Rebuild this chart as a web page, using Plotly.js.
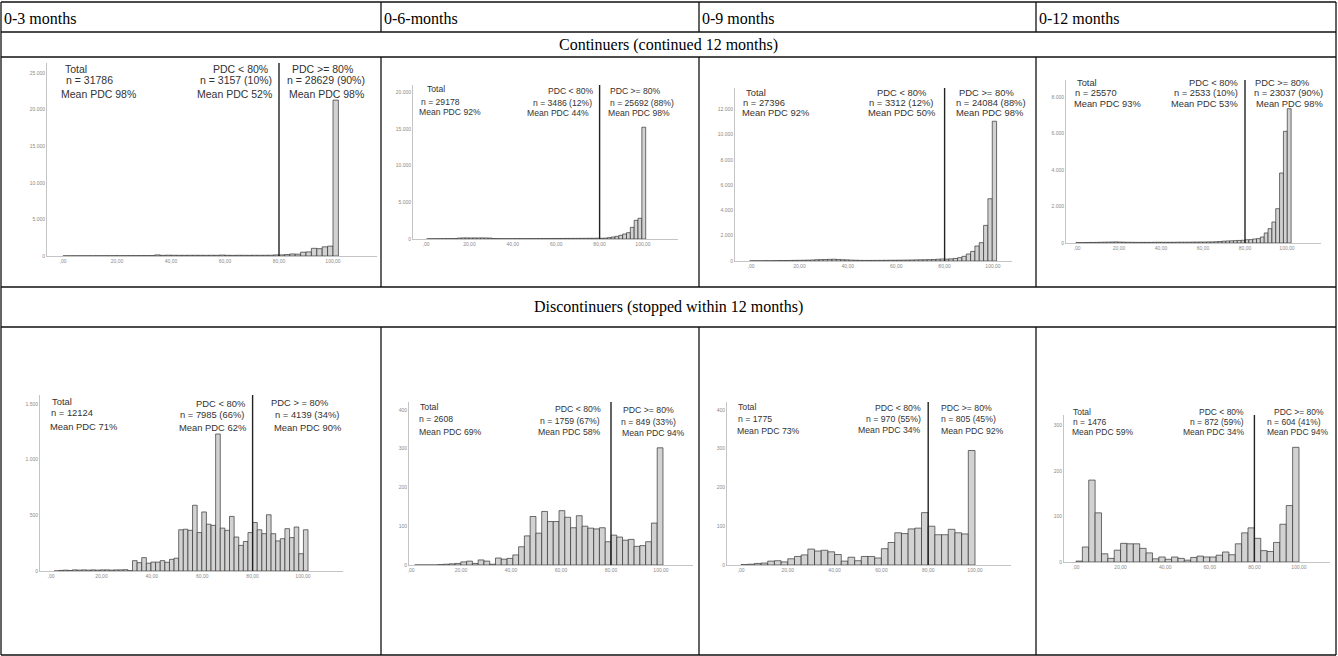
<!DOCTYPE html>
<html><head><meta charset="utf-8">
<script src="https://cdn.plot.ly/plotly-3.0.1.min.js"></script>
<style>html,body{margin:0;padding:0;background:#fff;} #chart{width:1338px;height:656px;}</style>
</head><body><div id="chart"></div>
<script>
// ---------------- DATA ----------------
const columnHeaders = ["0-3 months", "0-6-months", "0-9 months", "0-12 months"];
const rowTitles = ["Continuers (continued 12 months)", "Discontinuers (stopped within 12 months)"];
const xTickVals = [0, 20, 40, 60, 80, 100];
const xTickText = [",00", "20,00", "40,00", "60,00", "80,00", "100,00"];
const cutoff = 80;

// histogram counts: bins below the 80% cutoff (ascending) and bins from the cutoff upward
const cont03Below = [20,25,25,30,30,30,35,35,40,40,40,45,45,50,50,50,55,150,90,110,100,95,90,95,100,95,90,100,90,130,95,85,100,95,90,100,95,100,105,150];
const cont03Above = [150,200,280,250,520,560,1050,1000,1250,1350,21300];
const cont06Below = [25,30,35,40,45,50,55,60,130,150,150,140,150,145,150,140,130,60,50,45,45,45,45,45,50,50,50,55,55,55,60,60,65,70,70,75,80,80,85,85,90,90,95,100,110];
const cont06Above = [100,120,180,270,360,500,680,860,1590,2545,2820,15230];
const cont09Below = [10,15,15,20,20,25,30,35,40,45,50,55,60,70,80,100,110,120,130,140,120,100,90,70,60,50,45,45,45,50,50,55,60,60,65,70,75,80,90,95,100,110,120,140,160];
const cont09Above = [150,170,200,265,370,550,760,1185,1450,2815,4920,11050];
const cont12Below = [20,20,25,30,30,35,40,45,50,55,60,50,45,40,40,35,35,35,35,35,40,40,40,40,40,40,45,45,45,45,50,50,55,55,60,60,70,80,100,110,120,130,140,150];
const cont12Above = [180,185,220,240,330,550,785,1150,1880,3835,6120,7360];
const disc03Below = [0,5,8,5,10,8,10,8,10,8,10,10,8,10,10,12,3,
                     93,75,120,70,80,80,93,78,105,115,
                     370,375,365,590,345,530,420,410,1230,385,365,490,305,230,265,345];
const disc03Above = [435,370,335,505,335,270,290,380,300,395,155,370];
const disc06Below = [0,0,0,0,1,2,3,4,8,10,4,13,10,2,18,15,17,26,47,75,125,82,138,112,112,140,123,96,127,100,95,93,96,60];
const disc06Above = [77,72,64,66,48,50,60,108,302];
const disc09Below = [1,2,4,5,10,11,8,16,22,26,41,36,38,34,27,10,20,11,22,22,18,42,58,83,81,93,95,135];
const disc09Above = [100,78,78,92,83,80,295];
const disc12Below = [2,33,180,108,18,8,26,41,40,40,30,20,7,11,6,11,8,4,10,13,11,11,15,22,16,40,64,75];
const disc12Above = [52,25,23,43,83,124,252];

// y-axis tick values
const yTicksCont03 = [0,5000,10000,15000,20000,25000];
const yTicksCont06 = [0,5000,10000,15000,20000];
const yTicksCont09 = [0,2000,4000,6000,8000,10000,12000];
const yTicksCont12 = [0,2000,4000,6000,8000];
const yTicksDisc03 = [0,500,1000,1500];
const yTicksDisc06 = [0,100,200,300,400];
const yTicksDisc09 = [0,100,200,300,400];
const yTicksDisc12 = [0,100,200,300];

// annotation texts: [total block, PDC<80 block, PDC>=80 block]
const textCont03 = [["Total","n = 31786","Mean PDC 98%"],["PDC < 80%","n = 3157 (10%)","Mean PDC 52%"],["PDC >= 80%","n = 28629 (90%)","Mean PDC 98%"]];
const textCont06 = [["Total","n = 29178","Mean PDC 92%"],["PDC < 80%","n = 3486 (12%)","Mean PDC 44%"],["PDC >= 80%","n = 25692 (88%)","Mean PDC 98%"]];
const textCont09 = [["Total","n = 27396","Mean PDC 92%"],["PDC < 80%","n = 3312 (12%)","Mean PDC 50%"],["PDC >= 80%","n = 24084 (88%)","Mean PDC 98%"]];
const textCont12 = [["Total","n = 25570","Mean PDC 93%"],["PDC < 80%","n = 2533 (10%)","Mean PDC 53%"],["PDC >= 80%","n = 23037 (90%)","Mean PDC 98%"]];
const textDisc03 = [["Total","n = 12124","Mean PDC 71%"],["PDC < 80%","n = 7985 (66%)","Mean PDC 62%"],["PDC > = 80%","n = 4139 (34%)","Mean PDC 90%"]];
const textDisc06 = [["Total","n = 2608","Mean PDC 69%"],["PDC < 80%","n = 1759 (67%)","Mean PDC 58%"],["PDC >= 80%","n = 849 (33%)","Mean PDC 94%"]];
const textDisc09 = [["Total","n = 1775","Mean PDC 73%"],["PDC < 80%","n = 970 (55%)","Mean PDC 34%"],["PDC >= 80%","n = 805 (45%)","Mean PDC 92%"]];
const textDisc12 = [["Total","n = 1476","Mean PDC 59%"],["PDC < 80%","n = 872 (59%)","Mean PDC 34%"],["PDC >= 80%","n = 604 (41%)","Mean PDC 94%"]];

// ---------------- LAYOUT / STYLE (pixel geometry) ----------------
const W = 1338, H = 656;
const panels = [
  {below: cont03Below, above: cont03Above, bw: 2.0, yt: yTicksCont03, txt: textCont03, ax: 47, x0: 63, x100: 333, xe: 377, base: 256, top: 63, ymax: 26370, fs: 10.5,
   blk: [{a:'left', xs:[63,64,59], ys:[69,80,94]}, {a:'right', xs:[270,274,274], ys:[69,80,94]}, {a:'left', xs:[290,285,287], ys:[69,80,94]}]},
  {below: cont06Below, above: cont06Above, bw: 1.77, yt: yTicksCont06, txt: textCont06, ax: 413, x0: 426, x100: 643, xe: 678, base: 239, top: 85, ymax: 20980, fs: 8.6,
   blk: [{a:'left', xs:[425,419,417], ys:[89,102,112]}, {a:'right', xs:[595,594,591], ys:[91,103,113]}, {a:'left', xs:[608,608,606], ys:[91,103,113]}]},
  {below: cont09Below, above: cont09Above, bw: 1.79, yt: yTicksCont09, txt: textCont09, ax: 735, x0: 751, x100: 993, xe: 1012, base: 261, top: 88, ymax: 13676, fs: 9.4,
   blk: [{a:'left', xs:[744,741,740], ys:[92,103,113]}, {a:'center', xs:[901,901,901], ys:[93,103,113]}, {a:'left', xs:[957,954,954], ys:[93,103,113]}]},
  {below: cont12Below, above: cont12Above, bw: 1.83, yt: yTicksCont12, txt: textCont12, ax: 1066, x0: 1077, x100: 1287, xe: 1321, base: 243, top: 80, ymax: 8932, fs: 9.3,
   blk: [{a:'left', xs:[1075,1073,1072], ys:[83,93,104]}, {a:'right', xs:[1240,1240,1240], ys:[83,93,104]}, {a:'left', xs:[1253,1252,1254], ys:[83,93,104]}]},
  {below: disc03Below, above: disc03Above, bw: 1.833, yt: yTicksDisc03, txt: textDisc03, ax: 40, x0: 51, x100: 303, xe: 343, base: 571, top: 395, ymax: 1580, fs: 9.4,
   blk: [{a:'left', xs:[50,49,48], ys:[401,413,426]}, {a:'right', xs:[247,246,248], ys:[403,414,427]}, {a:'left', xs:[269,273,272], ys:[402,415,427]}]},
  {below: disc06Below, above: disc06Above, bw: 2.31, yt: yTicksDisc06, txt: textDisc06, ax: 409, x0: 411, x100: 661, xe: 693, base: 565, top: 402, ymax: 420, fs: 8.7,
   blk: [{a:'left', xs:[418,417,417], ys:[407,419,432]}, {a:'right', xs:[603,602,603], ys:[409,421,432]}, {a:'left', xs:[621,619,620], ys:[410,422,433]}]},
  {below: disc09Below, above: disc09Above, bw: 100/35, yt: yTicksDisc09, txt: textDisc09, ax: 727, x0: 741, x100: 975, xe: 1011, base: 565, top: 402, ymax: 420, fs: 8.7,
   blk: [{a:'left', xs:[736,736,735], ys:[407,419,431]}, {a:'right', xs:[923,923,923], ys:[408,419,430]}, {a:'left', xs:[939,939,939], ys:[408,419,431]}]},
  {below: disc12Below, above: disc12Above, bw: 100/35, yt: yTicksDisc12, txt: textDisc12, ax: 1064, x0: 1076, x100: 1299, xe: 1330, base: 562, top: 415, ymax: 323, fs: 8.5,
   blk: [{a:'left', xs:[1071,1071,1070], ys:[412,422,432]}, {a:'right', xs:[1246,1246,1246], ys:[412,422,432]}, {a:'left', xs:[1272,1265,1265], ys:[412,422,432]}]}
];

function fmtThousands(v) {
  if (v < 1000) return String(v);
  const s = String(v);
  return s.slice(0, s.length - 3) + "." + s.slice(s.length - 3);
}
const px = x => x / W;
const py = y => 1 - y / H;

const traces = [];
const layout = {
  width: W, height: H,
  margin: {l: 0, r: 0, t: 0, b: 0, pad: 0},
  paper_bgcolor: '#ffffff', plot_bgcolor: 'rgba(0,0,0,0)',
  showlegend: false, hovermode: false,
  shapes: [], annotations: []
};

panels.forEach((p, i) => {
  const n = i + 1;
  const xa = n === 1 ? 'x' : 'x' + n, ya = n === 1 ? 'y' : 'y' + n;
  const xk = n === 1 ? 'xaxis' : 'xaxis' + n, yk = n === 1 ? 'yaxis' : 'yaxis' + n;
  const w = p.bw, nb = p.below.length;
  // bin centres: bins are laid out edge-to-edge on either side of the cutoff
  const xsBelow = p.below.map((_, k) => cutoff - (nb - k - 0.5) * w);
  const xsAbove = p.above.map((_, k) => cutoff + (k + 0.5) * w);
  traces.push({
    type: 'bar', x: xsBelow.concat(xsAbove), y: p.below.concat(p.above), width: w, xaxis: xa, yaxis: ya,
    marker: {color: '#d2d2d2', line: {color: '#333', width: 0.7}},
    hoverinfo: 'skip'
  });
  const scale = (p.x100 - p.x0) / 100;
  layout[xk] = {
    domain: [px(p.ax), px(p.xe)], anchor: ya,
    range: [(p.ax - p.x0) / scale, (p.xe - p.x0) / scale],
    showgrid: false, zeroline: false, showline: true, linecolor: '#c4c4c4', linewidth: 1,
    ticks: '', tickvals: xTickVals, ticktext: xTickText,
    tickfont: {family: 'Liberation Sans, Arial, sans-serif', size: 5, color: '#8a8a8a'},
    fixedrange: true
  };
  layout[yk] = {
    domain: [py(p.base), py(p.top)], anchor: xa,
    range: [0, p.ymax],
    showgrid: false, zeroline: false, showline: true, linecolor: '#c4c4c4', linewidth: 1,
    ticks: '', tickvals: p.yt, ticktext: p.yt.map(fmtThousands),
    tickfont: {family: 'Liberation Sans, Arial, sans-serif', size: 5, color: '#8a8a8a'},
    fixedrange: true
  };
  layout.shapes.push({type: 'line', xref: xa, yref: ya + ' domain', x0: cutoff, x1: cutoff, y0: 0, y1: 1,
    line: {color: '#222', width: 1.4}});
  p.blk.forEach((b, bi) => {
    p.txt[bi].forEach((t, li) => {
      layout.annotations.push({
        xref: 'paper', yref: 'paper', x: px(b.xs[li]), y: py(b.ys[li]),
        xanchor: b.a, yanchor: 'middle', showarrow: false, text: t,
        font: {family: 'Liberation Sans, Arial, sans-serif', size: p.fs, color: '#333'}
      });
    });
  });
});

// table grid
const hl = [2, 32, 57, 287, 327, 655];
const colX = [1, 381, 699, 1036, 1336];
const line = (x0, y0, x1, y1) => ({type: 'line', xref: 'paper', yref: 'paper', x0: px(x0), y0: py(y0), x1: px(x1), y1: py(y1), line: {color: '#111', width: 1.3}});
hl.forEach(y => layout.shapes.push(line(1, y, 1336, y)));
layout.shapes.push(line(1, 2, 1, 655));
layout.shapes.push(line(1336, 2, 1336, 655));
[381, 699, 1036].forEach(x => {
  layout.shapes.push(line(x, 2, x, 32));
  layout.shapes.push(line(x, 57, x, 287));
  layout.shapes.push(line(x, 327, x, 655));
});
const serif = {family: 'Liberation Serif, Times New Roman, serif', size: 16, color: '#000'};
columnHeaders.forEach((h, i) => {
  layout.annotations.push({xref: 'paper', yref: 'paper', x: px(colX[i] + 1), y: py(18), xanchor: 'left', yanchor: 'middle',
    showarrow: false, text: h, font: serif});
});
layout.annotations.push({xref: 'paper', yref: 'paper', x: px(668), y: py(45), xanchor: 'center', yanchor: 'middle', showarrow: false, text: rowTitles[0], font: serif});
layout.annotations.push({xref: 'paper', yref: 'paper', x: px(668), y: py(307), xanchor: 'center', yanchor: 'middle', showarrow: false, text: rowTitles[1], font: serif});

Plotly.newPlot('chart', traces, layout, {staticPlot: true, displayModeBar: false});
</script>
</body></html>
